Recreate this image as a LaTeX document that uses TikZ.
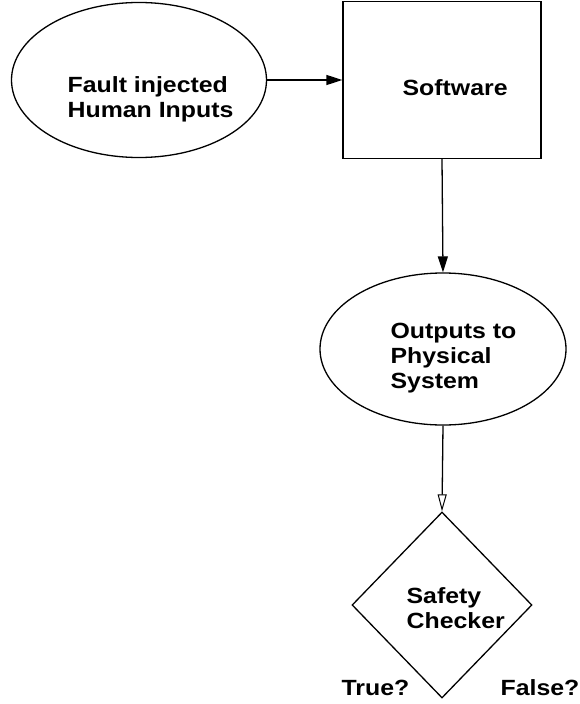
\documentclass[tikz,border=0pt]{standalone}
\usepackage{fontspec}
\setmainfont{Liberation Sans}[FakeStretch=1.13]
\usetikzlibrary{shapes.geometric}
\usetikzlibrary{arrows.meta}

\begin{document}
\begin{tikzpicture}[x=1pt,y=-1pt,line width=1.3pt,
  every node/.style={inner sep=0pt},
  txt/.style={font=\bfseries\fontsize{22}{25}\selectfont,align=left,anchor=base west},
  oval/.style={draw,ellipse},
  arr/.style={-{Triangle[length=16pt,width=10pt]}},
  openarr/.style={-{Triangle[open,length=17pt,width=9pt,line width=1pt]}}]
\useasboundingbox (0,0) rectangle (579,704);
% shapes
\node[oval,minimum width=255pt,minimum height=155pt] (inputs) at (139,80) {};
\node[draw,minimum width=198pt,minimum height=157pt] (software) at (442,80) {};
\node[oval,minimum width=246pt,minimum height=152pt] (outputs) at (443,349) {};
\node[draw,diamond,minimum width=180pt,minimum height=186pt] (checker) at (442,605) {};
% texts (anchored at the baseline of the last line)
\node[txt] (inputstxt) at (67,117) {Fault injected\\Human Inputs};
\node[txt] (softwaretxt) at (402,95) {Software};
\node[txt] (outputstxt) at (390,388) {Outputs to\\Physical\\System};
\node[txt] (checkertxt) at (406,628) {Safety\\Checker};
\node[txt] (true) at (341,695) {True?};
\node[txt] (false) at (500,695) {False?};
% arrows
\draw[arr] (inputs.east) -- (software.west);
\draw[arr] (software.south) -- (outputs.north);
\draw[openarr] (outputs.south) -- (checker.north);
\end{tikzpicture}
\end{document}
